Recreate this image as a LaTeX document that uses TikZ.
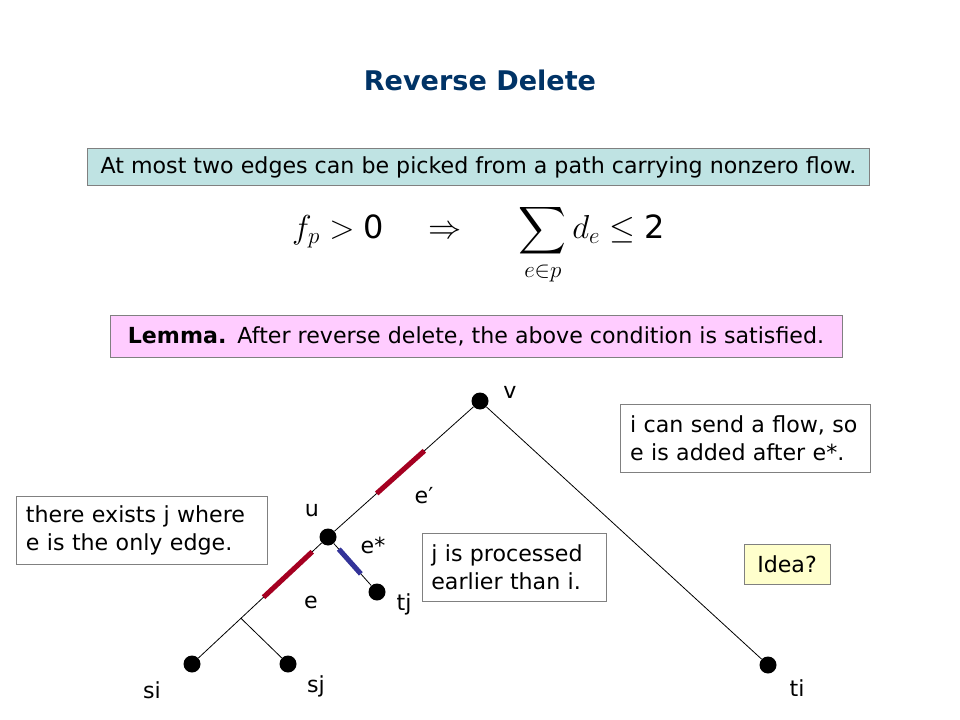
\documentclass[tikz,border=0pt]{standalone}
\usepackage{amsmath}
\usepackage{fontspec}
\setmainfont{DejaVu Sans}
\setsansfont{DejaVu Sans}
\usetikzlibrary{positioning}
\usetikzlibrary{calc}
\definecolor{titleBlue}{HTML}{003366}
\definecolor{cyanBox}{HTML}{BFE3E3}
\definecolor{pinkBox}{HTML}{FFCCFF}
\definecolor{ideaBox}{HTML}{FFFFCC}
\definecolor{edgeRed}{HTML}{A50021}
\definecolor{edgeBlue}{HTML}{333399}
\definecolor{boxGray}{HTML}{808080}

\begin{document}
\begin{tikzpicture}[x=0.75pt,y=-0.75pt,
		vertex/.style={circle,fill=black,inner sep=0pt,minimum size=12.75pt},
		lbl/.style={inner sep=0pt,font=\fontsize{16.6}{20}\selectfont},
		tree/.style={line width=0.6pt},
		redseg/.style={draw=edgeRed,line width=3.8pt},
		blueseg/.style={draw=edgeBlue,line width=3.8pt},
		note/.style={draw=boxGray,line width=0.75pt,fill=white,align=left,
			inner xsep=7pt,inner ysep=0pt,
			font=\fontsize{16.6}{21}\selectfont},
	]
	\fill[white] (0,0) rectangle (960,720);
	\useasboundingbox (0,0) rectangle (960,720);
	
	\node[font=\bfseries\fontsize{20.3}{24}\selectfont,text=titleBlue] (title) at (480,80) {Reverse Delete};
	
	\node[note,fill=cyanBox,minimum width=587pt,minimum height=28pt,align=center] (claim) at (478.5,167)
		{At most two edges can be picked from a path carrying nonzero flow.};
	\node[inner sep=0pt,anchor=base,font=\fontsize{24}{28}\selectfont] (cond) at (478.5,239)
		{$\displaystyle f_p > \mathsf{0}\hspace{33pt}{\Rightarrow}\hspace{39pt}\sum_{e\in p} d_e \le \mathsf{2}$};
	\node[note,fill=pinkBox,minimum width=549pt,minimum height=31pt,align=center] (lemma) at (476,336.5)
		{\textbf{Lemma.}\enspace After reverse delete, the above condition is satisfied.};
	
	% the tree
	\node[vertex] (v) at (480,401) {};
	\node[vertex] (u) at (328,537) {};
	\node[vertex] (tj) at (377,592) {};
	\node[vertex] (si) at (192,664) {};
	\node[vertex] (sj) at (288,664) {};
	\node[vertex] (ti) at (768,665) {};
	\coordinate (jn) at ($(u)!0.64!(si)$);
	
	\draw[tree] (v) -- (u);
	\draw[tree] (v) -- (ti);
	\draw[tree] (u) -- (si);
	\draw[tree] (u) -- (tj);
	\draw[tree] (jn) -- (sj);
	
	\draw[redseg] ($(u)!0.32!(v)$) -- ($(u)!0.634!(v)$);
	\draw[redseg] ($(u)!0.116!(si)$) -- ($(u)!0.474!(si)$);
	\draw[blueseg] ($(u)!0.22!(tj)$) -- ($(u)!0.67!(tj)$);
	
	\node[lbl] (vlab) at (510,392) {v};
	\node[lbl] (ulab) at (312,510) {u};
	\node[lbl] (eplab) at (424,496) {e′};
	\node[lbl] (eslab) at (373,545) {e*};
	\node[lbl] (elab) at (311,602) {e};
	\node[lbl] (tjlab) at (404,604) {tj};
	\node[lbl] (silab) at (152,690) {si};
	\node[lbl] (sjlab) at (316,686) {sj};
	\node[lbl] (tilab) at (797,688) {ti};
	
	% remarks
	\node[note,text width=174pt,minimum height=51pt] (exists) at (142,530)
		{there exists j where\\e is the only edge.};
	\node[note,text width=173pt,minimum height=51pt] (send) at (745.5,438.5)
		{i can send a flow, so\\e is added after e*.};
	\node[note,text width=124pt,minimum height=51pt] (earlier) at (514,567)
		{j is processed\\earlier than i.};
	\node[note,fill=ideaBox,minimum width=64.5pt,minimum height=30pt,align=center] (idea) at (787,564.5)
		{Idea?};
\end{tikzpicture}
\end{document}
